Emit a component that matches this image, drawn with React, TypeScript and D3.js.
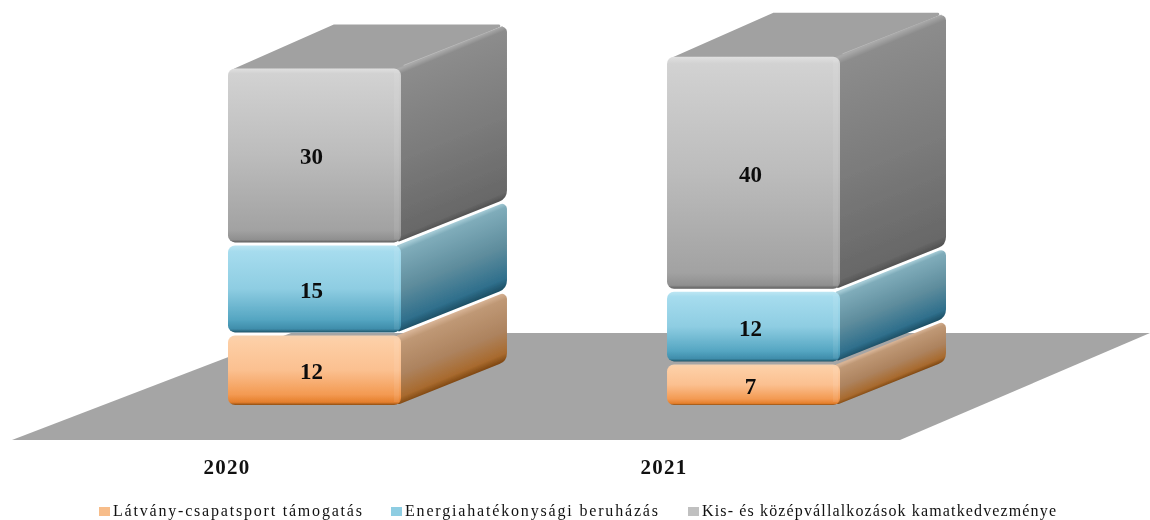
import React from "react";
import * as d3 from "d3";

const years = ["2020", "2021"];
const series = ["Látvány-csapatsport támogatás", "Energiahatékonysági beruházás", "Kis- és középvállalkozások kamatkedvezménye"];
const values2020 = [12, 15, 30];
const values2021 = [7, 12, 40];
const allValues = [values2020, values2021];

const frontStops = [
  [[0, "#f6d2b0"], [0.08, "#fdcfa6"], [0.5, "#fbc090"], [0.85, "#f39a52"], [0.96, "#e57f2c"], [1, "#8f4f14"]],
  [[0, "#bde6f3"], [0.07, "#a6dcee"], [0.5, "#8ecde2"], [0.85, "#55a6c2"], [0.96, "#3f8dab"], [1, "#1f5468"]],
  [[0, "#e0e0e0"], [0.03, "#d2d2d2"], [0.5, "#bcbcbc"], [0.93, "#a2a2a2"], [0.985, "#8f8f8f"], [1, "#5c5c5c"]],
];
const sideStops = [
  [[0, "#d6b294"], [0.1, "#bf9875"], [0.55, "#ad835f"], [0.88, "#a86a2e"], [1, "#7c4510"]],
  [[0, "#a3c9d4"], [0.06, "#7facba"], [0.5, "#5f8d9d"], [0.88, "#2f6f8c"], [1, "#1c4d62"]],
  [[0, "#a8a8a8"], [0.03, "#8c8c8c"], [0.5, "#7c7c7c"], [0.96, "#686868"], [1, "#505050"]],
];
const legendMarks = ["#f7bd8a", "#8ecde2", "#c0c0c0"];
const legendX = [113, 405, 702];
const legendEnd = [362, 658, 1056];

const W = 1150;
const H = 520;
const DX = 106;
const DY = 44;
const GAP = 3;
const R = 7;

const x = d3.scaleBand<string>().domain(years).range([228, 840]).paddingInner(0.606).paddingOuter(0);
const y = d3.scaleLinear().domain([0, 60]).range([405, 57]);

function roundedPoly(pts: [number, number][], radii: number[]) {
  const p = d3.path();
  const n = pts.length;
  const start = [(pts[0][0] + pts[n - 1][0]) / 2, (pts[0][1] + pts[n - 1][1]) / 2];
  p.moveTo(start[0], start[1]);
  for (let i = 0; i < n; i++) {
    const a = pts[i];
    const b = pts[(i + 1) % n];
    p.arcTo(a[0], a[1], b[0], b[1], radii[i]);
  }
  p.closePath();
  return p.toString();
}

function Grad({ id, stops, y0, y1, x0, skew }: { id: string; stops: any[]; y0: number; y1: number; x0: number; skew?: boolean }) {
  const t = skew ? `matrix(1 ${-DY / DX} 0 1 0 ${(x0 * DY) / DX})` : undefined;
  return (
    <linearGradient id={id} gradientUnits="userSpaceOnUse" x1={x0} x2={x0} y1={y0} y2={y1} gradientTransform={t}>
      {stops.map((s, i) => (
        <stop key={i} offset={s[0]} stopColor={s[1]} />
      ))}
    </linearGradient>
  );
}

export default function App() {
  const defs: React.ReactNode[] = [];
  const marks: React.ReactNode[] = [];
  const labels: React.ReactNode[] = [];
  const bw = x.bandwidth();

  years.forEach((yr, yi) => {
    const x0 = x(yr) as number;
    const x1 = x0 + bw;
    let cum = 0;
    allValues[yi].forEach((v, si) => {
      const yb = y(cum) - si * GAP;
      const yt = y(cum + v) - si * GAP;
      cum += v;
      const fid = `f${yi}${si}`;
      const sid = `s${yi}${si}`;
      defs.push(<Grad key={fid} id={fid} stops={frontStops[si]} y0={yt} y1={yb} x0={x0} />);
      defs.push(<Grad key={sid} id={sid} stops={sideStops[si]} y0={yt} y1={yb} x0={x1} skew />);
      if (si === series.length - 1) {
        marks.push(
          <g key={`top${yi}`}>
            <path
              d={roundedPoly([[x0 + 2, yt + 2], [x0 + DX, yt - DY], [x1 + DX - 1, yt - DY], [x1, yt + 2]], [1, 1, 1.5, 1])}
              fill="#a1a1a1"
            />
            <path d={`M${x1 + 3},${yt - 2}L${x1 + DX - 4},${yt - DY + 3}`} stroke="#bdbdbd" strokeWidth={3} fill="none" />
          </g>
        );
      }
      marks.push(
        <g key={`${yi}-${si}`}>
          <path
            d={roundedPoly([[x1 - 4, yb], [x1 + DX, yb - DY], [x1 + DX, yt - DY], [x1 - 4, yt]], [2, 12, 5, 0])}
            fill={`url(#${sid})`}
          />
          <rect x={x0} y={yt} width={bw} height={yb - yt} rx={R} fill={`url(#${fid})`} />
          <rect x={x1 - 7} y={yt + 3} width={5} height={yb - yt - 6} fill="#ffffff" opacity={0.08} />
        </g>
      );
      labels.push(
        <text
          key={`l${yi}${si}`}
          x={x0 + bw / 2 - 3}
          y={(yt + yb) / 2 + 9}
          textAnchor="middle"
          fontFamily="'Liberation Serif'"
          fontWeight="bold"
          fontSize={23}
          fill="#0c0c0c"
        >
          {v}
        </text>
      );
    });
  });

  return (
    <svg width={W} height={H} style={{ position: "absolute", left: 0, top: 0, background: "#fff" }}>
      <defs>
        {defs}
        <filter id="soft" x="-5%" y="-5%" width="110%" height="110%">
          <feGaussianBlur stdDeviation="0.6" />
        </filter>
      </defs>
      <g filter="url(#soft)">
        <polygon points="12,440 291,333 1150,333 900,440" fill="#a5a5a5" />
        {marks}
      </g>
      <g style={{ filter: "blur(0.3px)" }}>
        {labels}
        {years.map((yr, i) => (
          <text
            key={yr}
            x={i === 0 ? 227 : 664}
            y={474}
            textAnchor="middle"
            fontFamily="'Liberation Serif'"
            fontWeight="bold"
            fontSize={21}
            letterSpacing={1.2}
            fill="#111"
          >
            {yr}
          </text>
        ))}
        {series.map((s, i) => (
          <g key={s}>
            <rect x={legendX[i] - 14} y={507} width={11} height={9} fill={legendMarks[i]} />
            <text
              x={legendX[i]}
              y={515.5}
              fontFamily="'Liberation Serif'"
              fontSize={16}
              textLength={legendEnd[i] - legendX[i]}
              lengthAdjust="spacing"
              fill="#111"
            >
              {s}
            </text>
          </g>
        ))}
      </g>
    </svg>
  );
}
